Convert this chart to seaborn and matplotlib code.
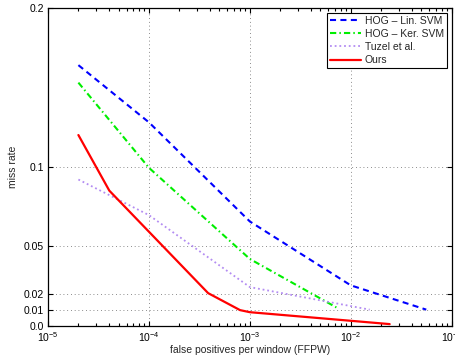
import matplotlib
matplotlib.use("Agg")
import matplotlib.pyplot as plt
import seaborn as sns
import pandas as pd
from matplotlib.ticker import LogLocator, FixedLocator, FixedFormatter, NullFormatter

# ---- data ----
lin_x = [2e-5, 1e-4, 1e-3, 1e-2, 5.6e-2]
lin_y = [0.164, 0.128, 0.0656, 0.0254, 0.0101]

ker_x = [2e-5, 1e-4, 1e-3, 7.2e-3]
ker_y = [0.153, 0.0994, 0.042, 0.0115]

tuz_x = [2e-5, 1e-4, 1e-3, 1.54e-2]
tuz_y = [0.092, 0.0696, 0.0243, 0.0101]

ours_x = [2e-5, 4.05e-5, 3.86e-4, 8e-4, 1e-3, 2.43e-2]
ours_y = [0.120, 0.085, 0.0205, 0.0098, 0.0085, 0.001]

labels = ["HOG \u2013 Lin. SVM", "HOG \u2013 Ker. SVM", "Tuzel et al.", "Ours"]
y_ticks = [0.0, 0.01, 0.02, 0.05, 0.1, 0.2]
y_tick_labels = ["0.0", "0.01", "0.02", "0.05", "0.1", "0.2"]
x_ticks = [1e-5, 1e-4, 1e-3, 1e-2, 1e-1]

sns.set_style("ticks")
plt.rcParams["font.family"] = ["Liberation Sans", "DejaVu Sans"]
plt.rcParams["mathtext.fontset"] = "custom"
plt.rcParams["mathtext.rm"] = "Liberation Sans"
plt.rcParams["mathtext.it"] = "Liberation Sans:italic"
plt.rcParams["mathtext.bf"] = "Liberation Sans:bold"

fig = plt.figure(figsize=(4.56, 3.61), dpi=100)
ax = fig.add_axes([0.1053, 0.0978, 0.8852, 0.8802])

series = [
    (lin_x, lin_y, labels[0], "#0000ff", (0, (2.9, 2.1)), 1.5),
    (ker_x, ker_y, labels[1], "#00ee00", (0, (3.0, 1.5, 0.7, 1.5)), 1.5),
    (tuz_x, tuz_y, labels[2], "#b38cf2", (0, (1.0, 1.6)), 1.3),
    (ours_x, ours_y, labels[3], "#ff0000", "-", 1.6),
]
for xs, ys, lab, col, ls, lw in series:
    df = pd.DataFrame({"x": xs, "y": ys})
    sns.lineplot(data=df, x="x", y="y", ax=ax, color=col, linestyle=ls,
                 linewidth=lw, label=lab, sort=False, estimator=None)

ax.set_xscale("log")
ax.set_xlim(1e-5, 1e-1)
ax.set_ylim(0, 0.2)
ax.xaxis.set_major_locator(FixedLocator(x_ticks))
ax.xaxis.set_minor_locator(LogLocator(base=10, subs=range(2, 10), numticks=20))
ax.xaxis.set_minor_formatter(NullFormatter())
ax.set_xticklabels([r"$10^{-5}$", r"$10^{-4}$", r"$10^{-3}$", r"$10^{-2}$", r"$10^{-1}$"])
ax.yaxis.set_major_locator(FixedLocator(y_ticks))
ax.yaxis.set_major_formatter(FixedFormatter(y_tick_labels))

ax.tick_params(which="both", direction="in", top=True, right=True, labelsize=7.5,
               colors="black", width=0.8)
ax.tick_params(which="major", length=3.5, pad=3)
ax.tick_params(which="minor", length=2)
for s in ax.spines.values():
    s.set_color("black")
    s.set_linewidth(0.9)

ax.grid(True, which="major", color="0.4", linestyle=(0, (1, 3.5)), linewidth=0.6)

ax.set_xlabel("false positives per window (FFPW)", fontsize=7.5, labelpad=1)
ax.set_ylabel("miss rate", fontsize=7.5, labelpad=4)

leg = ax.legend(loc="upper right", bbox_to_anchor=(0.988, 0.985), borderaxespad=0,
                fontsize=7.5, frameon=True, fancybox=False, framealpha=1,
                edgecolor="black", handlelength=3.0, labelspacing=0.3,
                borderpad=0.3, handletextpad=0.3)
leg.get_frame().set_linewidth(0.8)

fig.savefig("out.png", dpi=100)
